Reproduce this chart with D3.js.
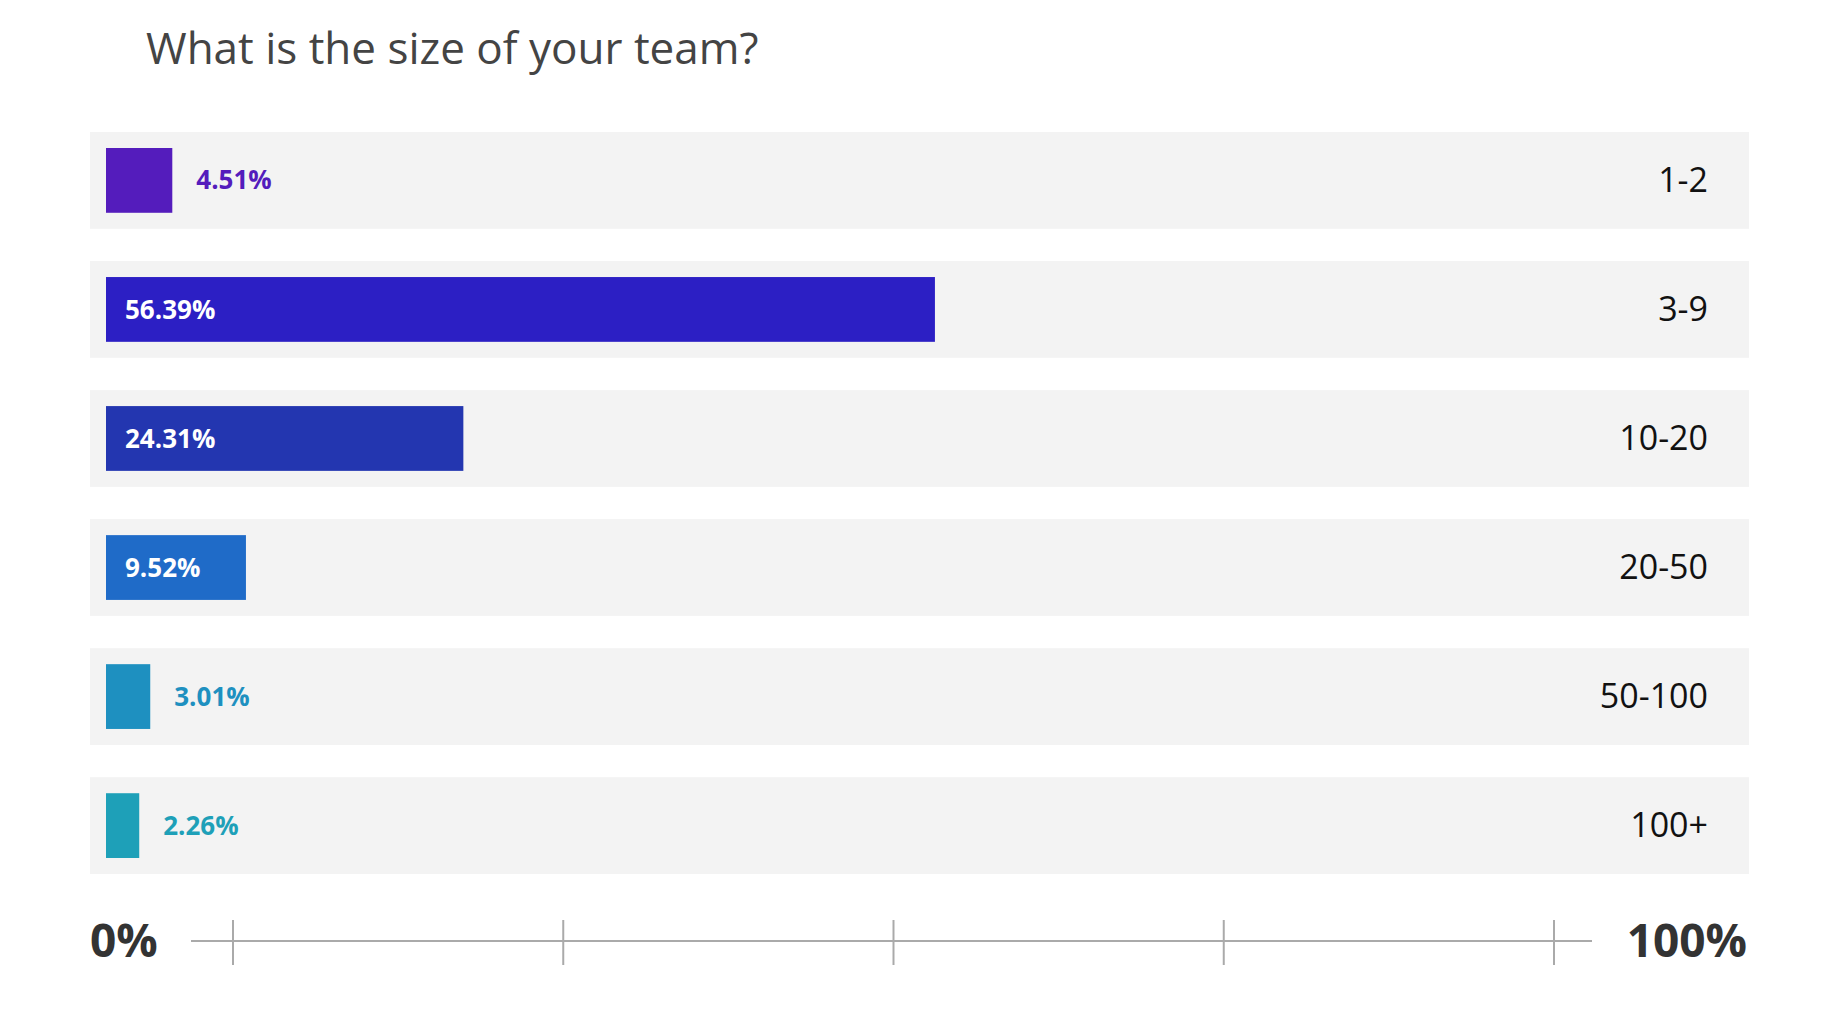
<!DOCTYPE html>
<meta charset="utf-8">
<style>body{margin:0;background:#fff}text{font-family:"Open Sans",Lato,sans-serif}</style>
<svg id="mainsvg" width="1824" height="1028"></svg>
<script src="https://d3js.org/d3.v7.min.js"></script>
<script>
const categories = ["1-2", "3-9", "10-20", "20-50", "50-100", "100+"];
const values = [4.51, 56.39, 24.31, 9.52, 3.01, 2.26];
const colors = ["#541cbc", "#2c1fc4", "#2336b0", "#1f6bc8", "#1e90c0", "#1ea0b8"];
const tickValues = [0, 25, 50, 75, 100];

const svg = d3.select("#mainsvg");

svg.append("text").attr("x", 146).attr("y", 64)
  .attr("font-size", 44).attr("fill", "#444").attr("font-family", "Lato, sans-serif")
  .text("What is the size of your team?");

const y = d3.scaleBand().domain(categories).range([132, 874]).paddingInner(0.25);
const x = d3.scaleLinear().domain([0, 100]).range([106, 1576]);

const row = svg.append("g").selectAll("g").data(categories).join("g")
  .attr("transform", d => `translate(0,${y(d)})`);

row.append("rect").attr("x", 90).attr("width", 1659).attr("height", y.bandwidth()).attr("fill", "#f3f3f3");

row.append("rect").attr("x", x(0)).attr("y", 16)
  .attr("width", (d, i) => x(values[i]) - x(0)).attr("height", y.bandwidth() - 32)
  .attr("fill", (d, i) => colors[i]);

row.append("text")
  .attr("x", (d, i) => values[i] > 8 ? x(0) + 19 : x(values[i]) + 24)
  .attr("y", y.bandwidth() / 2).attr("dy", "0.35em")
  .attr("font-size", 26).attr("font-weight", 700)
  .attr("fill", (d, i) => values[i] > 8 ? "#fff" : colors[i])
  .text((d, i) => values[i].toFixed(2) + "%");

row.append("text").attr("x", 1708).attr("y", y.bandwidth() / 2).attr("dy", "0.35em")
  .attr("text-anchor", "end").attr("font-size", 34).attr("fill", "#111").attr("font-family", "Lato, sans-serif")
  .text(d => d);

// axis
const ax = d3.scaleLinear().domain([0, 100]).range([233, 1554]);
const axis = svg.append("g");
axis.append("line").attr("x1", 191).attr("x2", 1592).attr("y1", 941).attr("y2", 941)
  .attr("stroke", "#aaa").attr("stroke-width", 2);
axis.selectAll(".tick").data(tickValues).join("line")
  .attr("x1", d => ax(d)).attr("x2", d => ax(d)).attr("y1", 920).attr("y2", 965)
  .attr("stroke", "#aaa").attr("stroke-width", 2);
axis.append("text").attr("x", 90).attr("y", 941).attr("dy", "0.35em")
  .attr("font-size", 46).attr("font-weight", 700).attr("fill", "#333").text("0%");
axis.append("text").attr("x", 1747).attr("y", 941).attr("dy", "0.35em").attr("text-anchor", "end")
  .attr("font-size", 46).attr("font-weight", 700).attr("fill", "#333").text("100%");
</script>
